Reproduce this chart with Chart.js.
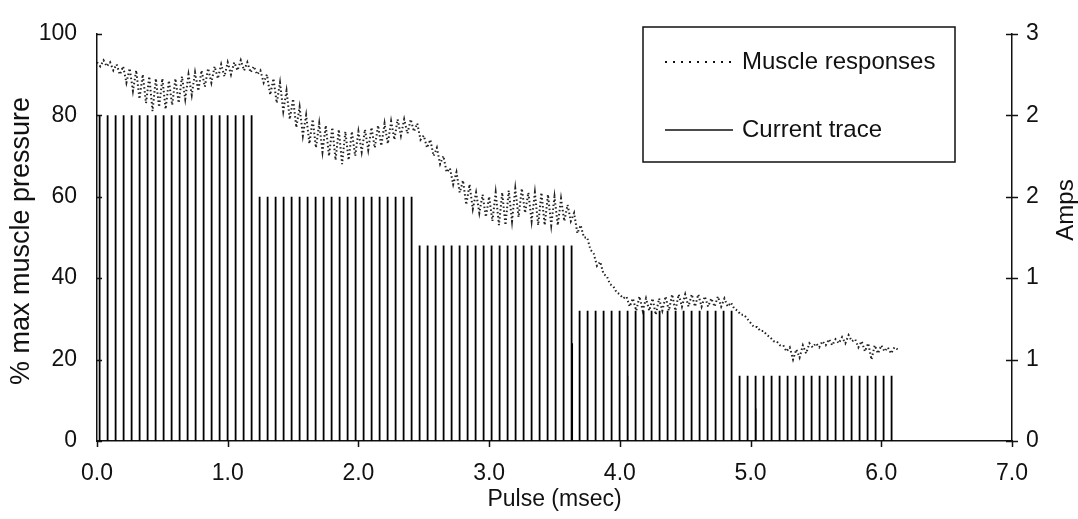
<!DOCTYPE html>
<html lang="en">
<head>
<meta charset="UTF-8">
<title>Muscle responses and current trace</title>
<script src="https://cdn.jsdelivr.net/npm/chart.js"></script>
<style>
    body { margin: 0; background: #ffffff; }
    .wrap { width: 1078px; height: 519px; }
</style>
</head>
<body>
<div class="wrap"><canvas id="pulseChart" width="1078" height="519"></canvas></div>
<script>
// current steps (amps), 20 pulses at each level
const currentLevels = [2.4, 1.8, 1.44, 0.96, 0.48];
const pulsesPerLevel = 20;
const pulseStart = 0.02;      // msec
const pulseInterval = 0.0612; // msec
// the few short pulses that sit next to a full one
const shortPulseTimes = [3.635, 4.06, 5.04];
const shortPulseAmps = [0.72, 0.48, 0.24];

// muscle response (% max), one reading every 0.025 msec from 0.0
const muscleStep = 0.025;
const muscleValues = [
    93, 92, 93.5, 92,   93, 91, 92.5, 90,   92, 88, 91.5, 86,   91, 84, 90, 83,
    89.5, 81, 89, 82,   89, 81.5, 88.5, 82.5, 89, 83, 89.5, 84, 90, 85, 90.5, 86,
    91, 87, 91.5, 88,   92, 89, 92.5, 89.5, 93, 90, 93, 91,     93.5, 91, 93, 90.5,
    92, 90, 91, 88,     90, 85, 89, 83,     88, 81, 86, 79,     84, 77, 82, 75,
    80, 73, 79, 72,     78, 71, 77.5, 70,   77, 69, 76.5, 68,   76, 69, 76, 70,
    76, 71, 76.5, 71.5, 77, 72, 77.5, 72.5, 78, 73, 78.5, 74,   79, 75, 79, 75.5,
    79, 76, 78, 74,     75, 72, 74, 70,     72, 68, 70, 66,     67, 63, 66, 61,
    64, 58, 63, 57,     61, 56, 60.5, 55,   60, 54, 61, 53,     61, 53, 61.5, 54,
    62, 55, 62, 56,     61, 54, 61, 53,     61, 53, 60.5, 53,   60, 53, 59.5, 54,
    58, 54, 56, 51,     53, 50, 50, 47,     46, 43, 44, 41,     40.5, 38.5, 38, 36.5,
    36, 35, 35.5, 33,   35, 32, 35.5, 32,   35, 32, 35, 31,     35, 32, 35.5, 32,
    36, 32, 36, 33,     36, 33, 36, 33,     36, 33, 35.5, 33,   35, 33, 35.5, 33,
    35, 33, 34, 32.5,   32, 31, 31, 30,     29, 28, 28, 27,     27, 26, 25.5, 24.5,
    24.5, 23.5, 23.5, 22, 23, 20, 22.5, 20.5, 23.5, 21.5, 24, 23, 24, 23, 24.5, 23.5,
    25, 23.5, 25, 24,   25.5, 24, 26, 24.5, 25, 23, 24.5, 22,   24, 20, 23.5, 21.5,
    23.5, 22, 23, 21.5, 23, 22.5
];

const FONT = '"Liberation Sans", Arial, sans-serif';
const INK = '#111111';

// vertical pulse lines: 0 -> amp -> gap
const currentPoints = [];
currentLevels.forEach((amp, k) => {
    for (let i = 0; i < pulsesPerLevel; i++) {
        const t = pulseStart + (k * pulsesPerLevel + i) * pulseInterval;
        currentPoints.push({ x: t, y: 0 }, { x: t, y: amp }, { x: t, y: null });
    }
});
shortPulseTimes.forEach((t, i) => {
    currentPoints.push({ x: t, y: 0 }, { x: t, y: shortPulseAmps[i] }, { x: t, y: null });
});

const musclePoints = muscleValues.map((v, i) => ({ x: i * muscleStep, y: v }));

// tick marks: inside on the left, outside below, across on the right
const axisTicks = {
    id: 'axisTicks',
    afterDraw(chart) {
        const { ctx, chartArea: a, scales } = chart;
        ctx.save();
        ctx.strokeStyle = INK;
        ctx.lineWidth = 1.5;
        ctx.beginPath();
        scales.x.ticks.forEach(t => {
            const px = Math.round(scales.x.getPixelForValue(t.value)) + 0.5;
            ctx.moveTo(px, a.bottom); ctx.lineTo(px, a.bottom + 6);
        });
        scales.y.ticks.forEach(t => {
            const py = Math.round(scales.y.getPixelForValue(t.value)) + 0.5;
            ctx.moveTo(a.left, py); ctx.lineTo(a.left + 5, py);
        });
        scales.y1.ticks.forEach(t => {
            const py = Math.round(scales.y1.getPixelForValue(t.value)) + 0.5;
            ctx.moveTo(a.right - 6, py); ctx.lineTo(a.right + 6, py);
        });
        ctx.stroke();

        // vertical axis titles, both reading bottom to top
        ctx.fillStyle = INK;
        ctx.textAlign = 'center';
        ctx.textBaseline = 'middle';
        ctx.font = '27px ' + FONT;
        ctx.translate(22, 241);
        ctx.rotate(-Math.PI / 2);
        ctx.fillText('% max muscle pressure', 0, 0);
        ctx.setTransform(1, 0, 0, 1, 0, 0);
        ctx.font = '24px ' + FONT;
        ctx.translate(1066, 210);
        ctx.rotate(-Math.PI / 2);
        ctx.fillText('Amps', 0, 0);
        ctx.restore();
    }
};

// boxed legend in the upper right
const boxLegend = {
    id: 'boxLegend',
    afterDraw(chart) {
        const { ctx } = chart;
        const box = { x: 643, y: 27, w: 312, h: 135 };
        ctx.save();
        ctx.strokeStyle = INK;
        ctx.lineWidth = 1.5;
        ctx.strokeRect(box.x, box.y, box.w, box.h);
        ctx.font = '24px ' + FONT;
        ctx.fillStyle = INK;
        ctx.textBaseline = 'middle';
        const rows = [62, 130];
        chart.data.datasets.forEach((ds, i) => {
            const y = rows[i];
            ctx.beginPath();
            ctx.setLineDash(i === 0 ? [2, 6] : []);
            ctx.lineWidth = i === 0 ? 2 : 1.5;
            ctx.moveTo(665, y); ctx.lineTo(733, y);
            ctx.stroke();
            ctx.setLineDash([]);
            ctx.fillText(ds.label, 742, y);
        });
        ctx.restore();
    }
};

new Chart(document.getElementById('pulseChart'), {
    type: 'line',
    data: {
        datasets: [
            {
                label: 'Muscle responses',
                data: musclePoints,
                yAxisID: 'y',
                borderColor: '#222222',
                borderWidth: 2,
                borderDash: [1.5, 2.5],
                pointRadius: 0,
                tension: 0
            },
            {
                label: 'Current trace',
                data: currentPoints,
                yAxisID: 'y1',
                borderColor: '#000000',
                borderWidth: 1.8,
                pointRadius: 0,
                spanGaps: false,
                tension: 0
            }
        ]
    },
    options: {
        responsive: false,
        animation: false,
        layout: { padding: { top: 20, left: 0, right: 0, bottom: 0 } },
        plugins: { legend: { display: false }, tooltip: { enabled: false } },
        scales: {
            x: {
                type: 'linear',
                min: 0, max: 7,
                afterFit: s => { s.height = 78; },
                grid: { display: false, drawTicks: false },
                border: { display: true, color: INK, width: 1.5 },
                ticks: {
                    stepSize: 1, padding: 19, color: INK, font: { family: FONT, size: 23 },
                    callback: v => v.toFixed(1)
                },
                title: { display: true, text: 'Pulse (msec)', color: INK, padding: { top: 0, bottom: 6 }, font: { family: FONT, size: 23 } }
            },
            y: {
                position: 'left',
                min: 0, max: 100,
                afterFit: s => { s.width = 97; },
                grid: { display: false, drawTicks: false },
                border: { display: true, color: INK, width: 1.5 },
                ticks: { stepSize: 20, padding: 20, color: INK, font: { family: FONT, size: 23 } }
            },
            y1: {
                position: 'right',
                min: 0, max: 3,
                afterFit: s => { s.width = 66; },
                grid: { display: false, drawTicks: false },
                border: { display: true, color: INK, width: 1.5 },
                ticks: {
                    stepSize: 0.6, padding: 14, color: INK, font: { family: FONT, size: 23 },
                    callback: v => Math.round(v)
                }
            }
        }
    },
    plugins: [axisTicks, boxLegend]
});
</script>
</body>
</html>
